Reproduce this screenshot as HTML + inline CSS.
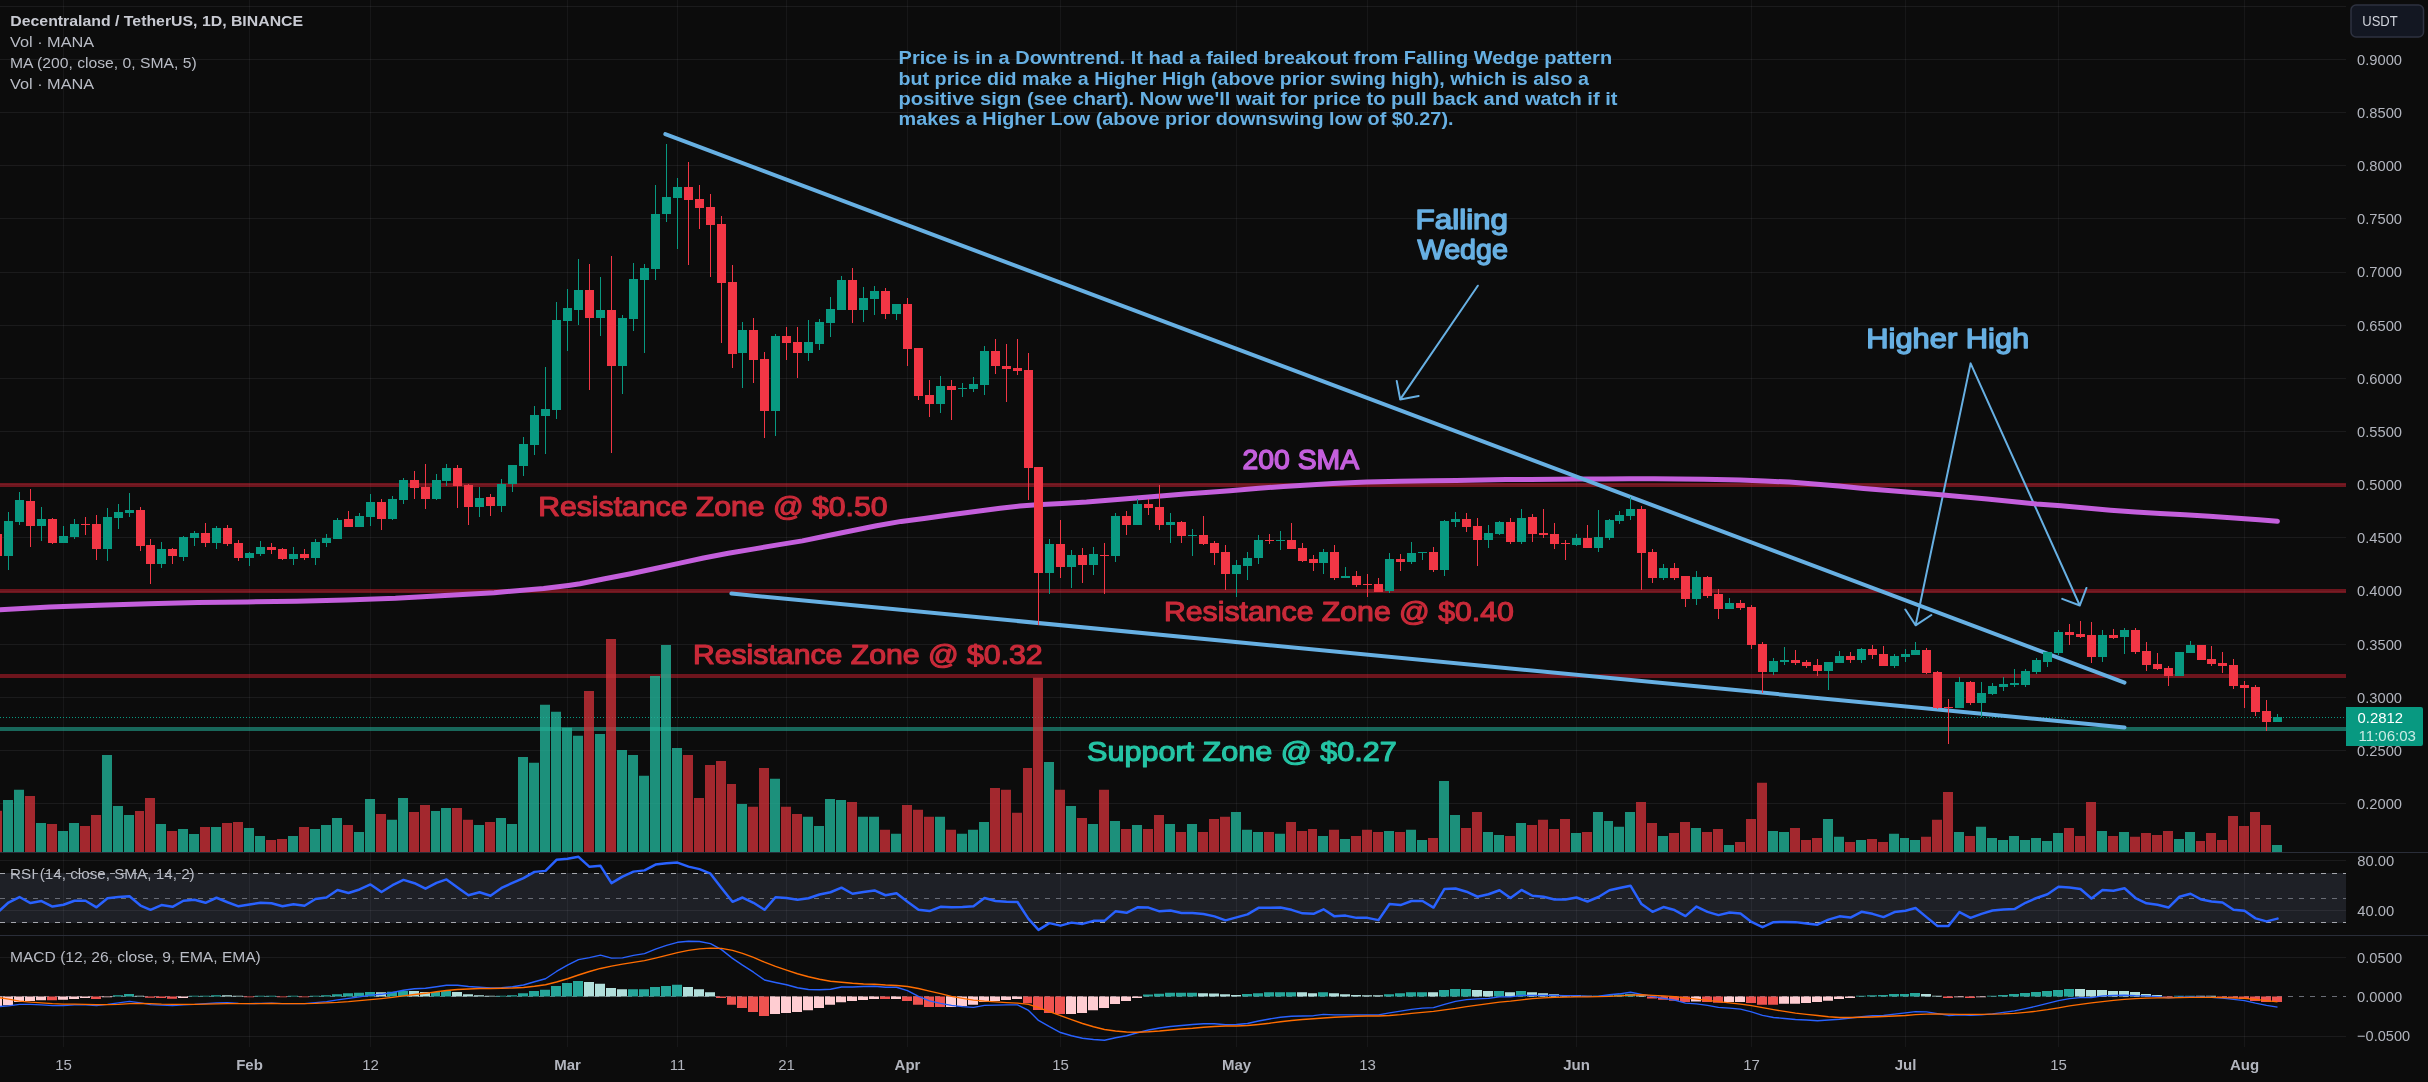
<!DOCTYPE html><html><head><meta charset="utf-8"><title>MANAUSDT</title><style>html,body{margin:0;padding:0;background:#0c0c0c;overflow:hidden}svg{display:block;will-change:transform}</style></head><body><svg width="2428" height="1082" viewBox="0 0 2428 1082" font-family="Liberation Sans, sans-serif">
<rect width="2428" height="1082" fill="#0c0c0c"/>
<rect x="0" y="873" width="2346" height="50" fill="#1e2026"/>
<path d="M63.5 0V1047M249.5 0V1047M370.5 0V1047M567.5 0V1047M677.5 0V1047M786.5 0V1047M907.5 0V1047M1060.5 0V1047M1236.5 0V1047M1367.5 0V1047M1576.5 0V1047M1751.5 0V1047M1905.5 0V1047M2058.5 0V1047M2244.5 0V1047" stroke="rgba(240,243,250,0.05)" stroke-width="1" fill="none"/>
<path d="M0 6.5H2346M0 59.5H2346M0 112.5H2346M0 165.5H2346M0 218.5H2346M0 272.5H2346M0 325.5H2346M0 378.5H2346M0 431.5H2346M0 484.5H2346M0 537.5H2346M0 591.5H2346M0 644.5H2346M0 697.5H2346M0 750.5H2346M0 803.5H2346M0 860.5H2346M0 910.5H2346M0 957.5H2346M0 1036.5H2346" stroke="rgba(240,243,250,0.065)" stroke-width="1" fill="none"/>
<path d="M0 873.5H2346M0 922.5H2346" stroke="#a6a8ae" stroke-width="1" stroke-dasharray="5 6" fill="none"/>
<path d="M0 898.5H2346" stroke="#6a6d76" stroke-width="1" stroke-dasharray="5 6" fill="none"/>
<path d="M0 852.5H2428M0 935.5H2428" stroke="#2a2e39" stroke-width="1" fill="none"/>
<rect x="0" y="483" width="2346" height="4" fill="rgba(230,34,52,0.45)"/>
<rect x="0" y="589" width="2346" height="4" fill="rgba(230,34,52,0.45)"/>
<rect x="0" y="674" width="2346" height="4" fill="rgba(230,34,52,0.45)"/>
<rect x="0" y="727" width="2346" height="4" fill="rgba(34,171,148,0.58)"/>
<path d="M0 717.5H2346" stroke="#089981" stroke-width="1" stroke-dasharray="1 2" fill="none"/>
<path d="M3 852V800.07H13V852ZM14 852V789.86H24V852ZM36 852V823.03H46V852ZM58 852V830.89H68V852ZM69 852V823.03H79V852ZM102 852V755H112V852ZM113 852V806.02H123V852ZM124 852V814.95H134V852ZM156 852V823.88H166V852ZM178 852V828.98H188V852ZM189 852V834.08H199V852ZM211 852V827.07H221V852ZM244 852V827.92H254V852ZM255 852V835.99H265V852ZM288 852V835.99H298V852ZM310 852V828.98H320V852ZM321 852V824.94H331V852ZM332 852V817.93H342V852ZM354 852V831.96H364V852ZM365 852V799.01H375V852ZM387 852V819.84H397V852ZM398 852V797.94H408V852ZM431 852V810.91H440V852ZM441 852V807.93H451V852ZM474 852V824.94H484V852ZM496 852V817.93H506V852ZM507 852V823.88H517V852ZM518 852V756.91H528V852ZM529 852V762.87H539V852ZM540 852V704.83H550V852ZM551 852V711.85H561V852ZM562 852V727.79H572V852ZM573 852V735.87H583V852ZM595 852V733.95H605V852ZM617 852V749.9H627V852ZM628 852V755H638V852ZM639 852V775.83H649V852ZM650 852V675.92H660V852ZM661 852V644.88H671V852ZM672 852V747.98H682V852ZM737 852V803.89H747V852ZM770 852V778.81H780V852ZM803 852V816.86H813V852ZM814 852V826H824V852ZM825 852V799.01H835V852ZM836 852V800.07H846V852ZM858 852V816.86H868V852ZM869 852V816.86H879V852ZM891 852V833.87H901V852ZM935 852V816.86H945V852ZM957 852V833.87H967V852ZM968 852V829.83H978V852ZM979 852V821.96H989V852ZM1044 852V762.02H1054V852ZM1066 852V806.02H1076V852ZM1088 852V823.88H1098V852ZM1110 852V820.9H1120V852ZM1132 852V824.94H1142V852ZM1165 852V823.88H1175V852ZM1187 852V823.88H1197V852ZM1231 852V811.97H1241V852ZM1242 852V829.83H1252V852ZM1253 852V831.96H1263V852ZM1275 852V833.87H1285V852ZM1318 852V835.99H1328V852ZM1340 852V838.97H1350V852ZM1384 852V830.89H1394V852ZM1406 852V829.83H1416V852ZM1417 852V840.03H1427V852ZM1439 852V780.94H1449V852ZM1450 852V814.95H1460V852ZM1483 852V831.96H1493V852ZM1494 852V834.93H1504V852ZM1516 852V823.03H1526V852ZM1571 852V833.02H1581V852ZM1593 852V811.97H1603V852ZM1604 852V820.9H1613V852ZM1614 852V826.85H1624V852ZM1625 852V811.97H1635V852ZM1658 852V835.99H1668V852ZM1691 852V827.92H1701V852ZM1724 852V844.92H1734V852ZM1768 852V830.89H1778V852ZM1779 852V831.96H1789V852ZM1823 852V818.99H1833V852ZM1834 852V836.85H1844V852ZM1856 852V840.03H1866V852ZM1889 852V833.87H1899V852ZM1900 852V837.91H1909V852ZM1910 852V840.03H1920V852ZM1954 852V831.96H1964V852ZM1976 852V826.85H1986V852ZM1987 852V837.91H1997V852ZM1998 852V840.03H2008V852ZM2009 852V835.99H2019V852ZM2020 852V840.03H2030V852ZM2031 852V837.91H2041V852ZM2042 852V840.88H2052V852ZM2053 852V833.02H2063V852ZM2097 852V830.89H2107V852ZM2119 852V831.96H2129V852ZM2174 852V838.97H2184V852ZM2185 852V831.96H2195V852ZM2272 852V844.92H2282V852Z" fill="rgb(32,177,151)" fill-opacity="0.8"/>
<path d="M-8 852V810.7H2V852ZM25 852V796.03H35V852ZM47 852V823.88H57V852ZM80 852V826H90V852ZM91 852V814.95H101V852ZM135 852V810.91H144V852ZM145 852V797.94H155V852ZM167 852V830.89H177V852ZM200 852V827.07H210V852ZM222 852V823.03H232V852ZM233 852V821.96H243V852ZM266 852V840.03H276V852ZM277 852V838.97H287V852ZM299 852V827.07H309V852ZM343 852V824.94H353V852ZM376 852V813.89H386V852ZM409 852V811.97H419V852ZM420 852V804.96H430V852ZM452 852V807.93H462V852ZM463 852V819.84H473V852ZM485 852V821.96H495V852ZM584 852V691.01H594V852ZM606 852V638.93H616V852ZM683 852V755H693V852ZM694 852V797.94H704V852ZM705 852V764.99H715V852ZM716 852V760.95H726V852ZM727 852V783.91H736V852ZM748 852V806.87H758V852ZM759 852V767.97H769V852ZM781 852V806.87H791V852ZM792 852V813.89H802V852ZM847 852V801.98H857V852ZM880 852V829.83H890V852ZM902 852V804.96H912V852ZM913 852V809.85H923V852ZM924 852V816.86H934V852ZM946 852V829.83H956V852ZM990 852V787.95H1000V852ZM1001 852V789.86H1011V852ZM1012 852V812.82H1022V852ZM1023 852V767.97H1032V852ZM1033 852V677.83H1043V852ZM1055 852V789.86H1065V852ZM1077 852V817.93H1087V852ZM1099 852V789.86H1109V852ZM1121 852V828.98H1131V852ZM1143 852V828.98H1153V852ZM1154 852V814.95H1164V852ZM1176 852V831.96H1186V852ZM1198 852V831.96H1208V852ZM1209 852V818.99H1219V852ZM1220 852V816.86H1230V852ZM1264 852V831.96H1274V852ZM1286 852V821.96H1296V852ZM1297 852V830.89H1307V852ZM1308 852V828.98H1317V852ZM1329 852V829.83H1339V852ZM1351 852V835.99H1361V852ZM1362 852V829.83H1372V852ZM1373 852V831.96H1383V852ZM1395 852V831.96H1405V852ZM1428 852V837.91H1438V852ZM1461 852V827.92H1471V852ZM1472 852V811.97H1482V852ZM1505 852V835.99H1515V852ZM1527 852V824.94H1537V852ZM1538 852V819.84H1548V852ZM1549 852V828.98H1559V852ZM1560 852V818.99H1570V852ZM1582 852V831.96H1592V852ZM1636 852V801.98H1646V852ZM1647 852V823.03H1657V852ZM1669 852V833.02H1679V852ZM1680 852V821.96H1690V852ZM1702 852V831.96H1712V852ZM1713 852V828.98H1723V852ZM1735 852V841.95H1745V852ZM1746 852V818.99H1756V852ZM1757 852V782.85H1767V852ZM1790 852V827.92H1800V852ZM1801 852V840.03H1811V852ZM1812 852V837.91H1822V852ZM1845 852V841.95H1855V852ZM1867 852V838.97H1877V852ZM1878 852V841.95H1888V852ZM1921 852V836.85H1931V852ZM1932 852V819.84H1942V852ZM1943 852V791.99H1953V852ZM1965 852V835.99H1975V852ZM2064 852V827.92H2074V852ZM2075 852V835.99H2085V852ZM2086 852V801.98H2096V852ZM2108 852V835.99H2118V852ZM2130 852V836.85H2140V852ZM2141 852V833.02H2151V852ZM2152 852V834.93H2162V852ZM2163 852V830.89H2173V852ZM2196 852V840.88H2205V852ZM2206 852V833.02H2216V852ZM2217 852V840.03H2227V852ZM2228 852V816.01H2238V852ZM2239 852V826H2249V852ZM2250 852V811.97H2260V852ZM2261 852V824.94H2271V852Z" fill="rgb(201,47,55)" fill-opacity="0.8"/>
<path d="M1477.8 285.7L1400.2 399.4M1400.2 399.4L1396.71 380.93M1400.2 399.4L1418.67 395.91M1970.6 363.4L1915.6 625.3M1915.6 625.3L1905.32 609.56M1915.6 625.3L1931.34 615.02M1970.6 363.4L2079.8 605.5M2079.8 605.5L2062.22 598.85M2079.8 605.5L2086.45 587.92" stroke="#67b0e3" stroke-width="2" stroke-linecap="round" stroke-linejoin="round" fill="none"/>
<polyline points="-6,610 0,609.7 49.4,606.9 98.8,605.2 148.3,603.8 197.7,602.4 247.1,601.9 296.5,601.2 345.9,600 395.4,598.3 444.8,595.5 494.2,592.7 543.6,588.5 568.3,585.4 580,583.7 604.7,578.7 629.4,574 654.1,568.8 678.8,563.4 703.5,558 728.3,553.3 753,549.1 777.7,544.9 802.4,540.9 827.1,535.7 851.8,530.8 876.5,525.8 901.2,521.4 925.9,518.2 950.6,514.7 975.4,511.5 1000.1,508.3 1019.8,506.1 1037.1,504.8 1061.8,503.4 1086.5,502.1 1111.3,500.1 1136,497.9 1160.7,495.9 1184.7,494 1209.4,492.2 1230,490.7 1258.8,488.2 1283.5,486.5 1308.3,484.9 1333,483.6 1366.5,482.1 1400,481.3 1431.8,480.8 1456.5,480.4 1481.2,480 1505.9,479.6 1530.6,479.4 1555.4,479.3 1580.1,479.1 1604.8,478.9 1629.5,478.7 1654.2,478.7 1678.9,478.9 1703.6,479.3 1728.3,479.7 1740,479.9 1764.7,480.9 1789.4,482.1 1814.1,484.1 1838.8,486.1 1863.5,488.5 1888.3,490.5 1913,492.5 1937.7,494.5 1962.4,496.7 1987.1,498.9 2011.8,501.4 2036.5,503.9 2061.2,505.8 2085.9,508.1 2110.6,510.3 2135.4,512 2160.1,513.5 2184.8,514.7 2209.5,516.2 2234.2,518 2258.9,519.7 2277.4,521.2" stroke="#c45fdc" stroke-width="5" fill="none" stroke-linecap="round" stroke-linejoin="round"/>
<path d="M665.3 134.1L2124.5 682.6M731.4 593.5L2124.5 727.5" stroke="#67b0e3" stroke-width="4" stroke-linecap="round" fill="none"/>
<path d="M8 512h1V570h-1ZM4 521h9V556h-9ZM19 492h1V525h-1ZM15 500h9V522h-9ZM41 507h1V541h-1ZM37 519h9V526h-9ZM63 526h1V543h-1ZM59 536h9V543h-9ZM74 519h1V539h-1ZM70 524h9V537h-9ZM107 508h1V561h-1ZM103 517h9V549h-9ZM118 504h1V529h-1ZM114 512h9V518h-9ZM129 493h1V517h-1ZM125 510h9V513h-9ZM161 542h1V568h-1ZM157 549h9V564h-9ZM183 536h1V561h-1ZM179 537h9V557h-9ZM194 531h1V546h-1ZM190 533h9V538h-9ZM216 526h1V549h-1ZM212 528h9V543h-9ZM249 552h1V566h-1ZM245 553h9V558h-9ZM260 541h1V556h-1ZM256 547h9V554h-9ZM293 547h1V565h-1ZM289 554h9V559h-9ZM315 539h1V565h-1ZM311 542h9V558h-9ZM326 534h1V547h-1ZM322 538h9V543h-9ZM337 518h1V539h-1ZM333 520h9V539h-9ZM359 513h1V527h-1ZM355 516h9V527h-9ZM370 494h1V526h-1ZM366 502h9V517h-9ZM392 496h1V520h-1ZM388 499h9V519h-9ZM403 478h1V504h-1ZM399 480h9V500h-9ZM436 474h1V500h-1ZM432 480h9V499h-9ZM446 464h1V486h-1ZM442 468h9V481h-9ZM479 487h1V517h-1ZM475 498h9V507h-9ZM501 479h1V512h-1ZM497 484h9V506h-9ZM512 465h1V492h-1ZM508 465h9V484h-9ZM523 437h1V476h-1ZM519 444h9V466h-9ZM534 406h1V455h-1ZM530 415h9V445h-9ZM545 367h1V454h-1ZM541 409h9V416h-9ZM556 302h1V419h-1ZM552 320h9V410h-9ZM567 289h1V351h-1ZM563 308h9V321h-9ZM578 259h1V325h-1ZM574 290h9V310h-9ZM600 277h1V336h-1ZM596 310h9V318h-9ZM622 315h1V394h-1ZM618 318h9V366h-9ZM633 263h1V331h-1ZM629 279h9V319h-9ZM644 264h1V353h-1ZM640 268h9V280h-9ZM655 185h1V280h-1ZM651 214h9V269h-9ZM666 144h1V222h-1ZM662 197h9V214h-9ZM677 178h1V249h-1ZM673 187h9V198h-9ZM742 322h1V388h-1ZM738 330h9V353h-9ZM775 334h1V436h-1ZM771 336h9V411h-9ZM808 320h1V361h-1ZM804 342h9V353h-9ZM819 319h1V350h-1ZM815 322h9V344h-9ZM830 297h1V337h-1ZM826 309h9V323h-9ZM841 276h1V310h-1ZM837 280h9V310h-9ZM863 287h1V322h-1ZM859 298h9V310h-9ZM874 286h1V315h-1ZM870 291h9V299h-9ZM896 304h1V320h-1ZM892 304h9V314h-9ZM940 376h1V413h-1ZM936 386h9V404h-9ZM962 383h1V397h-1ZM958 388h9V389h-9ZM973 377h1V392h-1ZM969 384h9V389h-9ZM984 346h1V395h-1ZM980 351h9V385h-9ZM1049 539h1V594h-1ZM1045 544h9V573h-9ZM1071 550h1V588h-1ZM1067 555h9V567h-9ZM1093 547h1V575h-1ZM1089 554h9V565h-9ZM1115 513h1V562h-1ZM1111 516h9V556h-9ZM1137 499h1V525h-1ZM1133 504h9V525h-9ZM1170 513h1V543h-1ZM1166 522h9V525h-9ZM1192 529h1V556h-1ZM1188 535h9V536h-9ZM1236 560h1V597h-1ZM1232 565h9V574h-9ZM1247 552h1V580h-1ZM1243 558h9V566h-9ZM1258 535h1V564h-1ZM1254 540h9V558h-9ZM1280 531h1V550h-1ZM1276 540h9V541h-9ZM1323 549h1V574h-1ZM1319 552h9V563h-9ZM1345 567h1V578h-1ZM1341 576h9V578h-9ZM1389 553h1V593h-1ZM1385 559h9V591h-9ZM1411 542h1V564h-1ZM1407 553h9V562h-9ZM1422 552h1V560h-1ZM1418 552h9V553h-9ZM1444 520h1V576h-1ZM1440 521h9V570h-9ZM1455 512h1V527h-1ZM1451 519h9V522h-9ZM1488 525h1V548h-1ZM1484 533h9V540h-9ZM1499 521h1V535h-1ZM1495 522h9V534h-9ZM1521 509h1V544h-1ZM1517 518h9V542h-9ZM1576 534h1V546h-1ZM1572 538h9V545h-9ZM1598 510h1V552h-1ZM1594 537h9V548h-9ZM1609 519h1V540h-1ZM1605 520h9V538h-9ZM1619 511h1V524h-1ZM1615 515h9V521h-9ZM1630 497h1V520h-1ZM1626 509h9V516h-9ZM1663 564h1V580h-1ZM1659 568h9V578h-9ZM1696 571h1V605h-1ZM1692 577h9V599h-9ZM1729 598h1V609h-1ZM1725 603h9V609h-9ZM1773 658h1V675h-1ZM1769 661h9V672h-9ZM1784 647h1V665h-1ZM1780 660h9V662h-9ZM1828 662h1V690h-1ZM1824 662h9V671h-9ZM1839 651h1V663h-1ZM1835 656h9V663h-9ZM1861 648h1V663h-1ZM1857 649h9V660h-9ZM1894 654h1V668h-1ZM1890 656h9V666h-9ZM1905 649h1V662h-1ZM1901 654h9V657h-9ZM1915 642h1V655h-1ZM1911 650h9V655h-9ZM1959 677h1V708h-1ZM1955 682h9V708h-9ZM1981 682h1V717h-1ZM1977 693h9V703h-9ZM1992 683h1V695h-1ZM1988 686h9V694h-9ZM2003 677h1V691h-1ZM1999 684h9V687h-9ZM2014 669h1V687h-1ZM2010 683h9V685h-9ZM2025 669h1V687h-1ZM2021 671h9V685h-9ZM2036 658h1V674h-1ZM2032 660h9V672h-9ZM2047 652h1V667h-1ZM2043 652h9V662h-9ZM2058 630h1V655h-1ZM2054 632h9V653h-9ZM2102 630h1V662h-1ZM2098 635h9V657h-9ZM2124 628h1V654h-1ZM2120 630h9V637h-9ZM2179 652h1V676h-1ZM2175 652h9V676h-9ZM2190 641h1V653h-1ZM2186 645h9V653h-9ZM2277 714h1V722h-1ZM2273 717h9V722h-9Z" fill="#089981"/>
<path d="M-3 534h1V556h-1ZM-7 534h9V556h-9ZM30 489h1V547h-1ZM26 501h9V526h-9ZM52 518h1V544h-1ZM48 519h9V543h-9ZM85 517h1V535h-1ZM81 524h9V525h-9ZM96 515h1V560h-1ZM92 524h9V549h-9ZM140 507h1V551h-1ZM136 510h9V546h-9ZM150 539h1V584h-1ZM146 545h9V564h-9ZM172 548h1V564h-1ZM168 549h9V556h-9ZM205 523h1V547h-1ZM201 533h9V543h-9ZM227 525h1V546h-1ZM223 528h9V544h-9ZM238 540h1V561h-1ZM234 543h9V558h-9ZM271 543h1V554h-1ZM267 547h9V550h-9ZM282 548h1V560h-1ZM278 549h9V559h-9ZM304 549h1V560h-1ZM300 554h9V558h-9ZM348 511h1V527h-1ZM344 519h9V527h-9ZM381 499h1V530h-1ZM377 502h9V519h-9ZM414 471h1V499h-1ZM410 480h9V488h-9ZM425 464h1V509h-1ZM421 487h9V499h-9ZM457 465h1V508h-1ZM453 468h9V486h-9ZM468 484h1V525h-1ZM464 485h9V507h-9ZM490 494h1V516h-1ZM486 497h9V506h-9ZM589 264h1V390h-1ZM585 290h9V318h-9ZM611 256h1V453h-1ZM607 310h9V366h-9ZM688 162h1V265h-1ZM684 187h9V200h-9ZM699 185h1V229h-1ZM695 199h9V208h-9ZM710 194h1V277h-1ZM706 207h9V225h-9ZM721 216h1V343h-1ZM717 224h9V283h-9ZM732 265h1V368h-1ZM728 282h9V354h-9ZM753 318h1V383h-1ZM749 330h9V360h-9ZM764 352h1V438h-1ZM760 359h9V411h-9ZM786 327h1V360h-1ZM782 336h9V343h-9ZM797 327h1V378h-1ZM793 342h9V353h-9ZM852 268h1V323h-1ZM848 280h9V310h-9ZM885 288h1V319h-1ZM881 291h9V314h-9ZM907 298h1V366h-1ZM903 304h9V349h-9ZM918 348h1V400h-1ZM914 348h9V396h-9ZM929 380h1V417h-1ZM925 395h9V404h-9ZM951 380h1V420h-1ZM947 386h9V390h-9ZM995 339h1V374h-1ZM991 351h9V366h-9ZM1006 344h1V402h-1ZM1002 366h9V369h-9ZM1017 339h1V375h-1ZM1013 368h9V371h-9ZM1028 353h1V500h-1ZM1024 370h9V468h-9ZM1038 467h1V625h-1ZM1034 467h9V573h-9ZM1060 520h1V578h-1ZM1056 544h9V567h-9ZM1082 548h1V583h-1ZM1078 555h9V565h-9ZM1104 543h1V594h-1ZM1100 555h9V556h-9ZM1126 511h1V535h-1ZM1122 516h9V525h-9ZM1148 499h1V515h-1ZM1144 504h9V508h-9ZM1159 485h1V530h-1ZM1155 507h9V525h-9ZM1181 521h1V543h-1ZM1177 522h9V536h-9ZM1203 516h1V545h-1ZM1199 535h9V544h-9ZM1214 541h1V565h-1ZM1210 543h9V553h-9ZM1225 545h1V590h-1ZM1221 552h9V574h-9ZM1269 534h1V544h-1ZM1265 540h9V541h-9ZM1291 523h1V549h-1ZM1287 540h9V549h-9ZM1302 543h1V562h-1ZM1298 548h9V561h-9ZM1313 555h1V571h-1ZM1309 559h9V563h-9ZM1334 545h1V580h-1ZM1330 552h9V578h-9ZM1356 571h1V587h-1ZM1352 576h9V585h-9ZM1367 574h1V597h-1ZM1363 584h9V585h-9ZM1378 578h1V592h-1ZM1374 584h9V592h-9ZM1400 554h1V571h-1ZM1396 559h9V562h-9ZM1433 547h1V572h-1ZM1429 552h9V570h-9ZM1466 513h1V532h-1ZM1462 519h9V527h-9ZM1477 518h1V566h-1ZM1473 526h9V540h-9ZM1510 518h1V544h-1ZM1506 522h9V542h-9ZM1532 514h1V542h-1ZM1528 517h9V534h-9ZM1543 509h1V538h-1ZM1539 533h9V535h-9ZM1554 523h1V549h-1ZM1550 534h9V544h-9ZM1565 540h1V560h-1ZM1561 543h9V544h-9ZM1587 525h1V548h-1ZM1583 538h9V548h-9ZM1641 506h1V590h-1ZM1637 509h9V553h-9ZM1652 549h1V583h-1ZM1648 552h9V578h-9ZM1674 563h1V580h-1ZM1670 568h9V578h-9ZM1685 576h1V607h-1ZM1681 576h9V599h-9ZM1707 576h1V598h-1ZM1703 577h9V596h-9ZM1718 589h1V619h-1ZM1714 594h9V609h-9ZM1740 600h1V610h-1ZM1736 603h9V608h-9ZM1751 605h1V649h-1ZM1747 607h9V645h-9ZM1762 642h1V693h-1ZM1758 644h9V672h-9ZM1795 650h1V665h-1ZM1791 660h9V663h-9ZM1806 660h1V668h-1ZM1802 662h9V666h-9ZM1817 659h1V676h-1ZM1813 665h9V671h-9ZM1850 652h1V663h-1ZM1846 656h9V660h-9ZM1872 645h1V659h-1ZM1868 649h9V655h-9ZM1883 646h1V666h-1ZM1879 654h9V666h-9ZM1926 648h1V674h-1ZM1922 650h9V673h-9ZM1937 671h1V709h-1ZM1933 672h9V708h-9ZM1948 699h1V744h-1ZM1944 707h9V708h-9ZM1970 681h1V705h-1ZM1966 682h9V703h-9ZM2069 624h1V645h-1ZM2065 632h9V635h-9ZM2080 621h1V638h-1ZM2076 634h9V637h-9ZM2091 622h1V663h-1ZM2087 635h9V657h-9ZM2113 629h1V639h-1ZM2109 635h9V638h-9ZM2135 628h1V654h-1ZM2131 630h9V652h-9ZM2146 642h1V671h-1ZM2142 651h9V665h-9ZM2157 653h1V670h-1ZM2153 664h9V669h-9ZM2168 666h1V686h-1ZM2164 668h9V676h-9ZM2201 645h1V660h-1ZM2197 645h9V660h-9ZM2211 646h1V666h-1ZM2207 659h9V664h-9ZM2222 652h1V673h-1ZM2218 663h9V666h-9ZM2233 659h1V689h-1ZM2229 665h9V686h-9ZM2244 681h1V708h-1ZM2240 685h9V688h-9ZM2255 685h1V716h-1ZM2251 687h9V712h-9ZM2266 700h1V731h-1ZM2262 711h9V722h-9Z" fill="#f23645"/>
<text x="898.6" y="64.4" font-size="18" fill="#67b0e3" font-weight="bold" text-anchor="start" textLength="713.5" lengthAdjust="spacingAndGlyphs">Price is in a Downtrend. It had a failed breakout from Falling Wedge pattern</text>
<text x="898.6" y="84.5" font-size="18" fill="#67b0e3" font-weight="bold" text-anchor="start" textLength="690.4" lengthAdjust="spacingAndGlyphs">but price did make a Higher High (above prior swing high), which is also a</text>
<text x="898.6" y="104.5" font-size="18" fill="#67b0e3" font-weight="bold" text-anchor="start" textLength="718.9" lengthAdjust="spacingAndGlyphs">positive sign (see chart). Now we'll wait for price to pull back and watch if it</text>
<text x="898.6" y="124.5" font-size="18" fill="#67b0e3" font-weight="bold" text-anchor="start" textLength="554.9" lengthAdjust="spacingAndGlyphs">makes a Higher Low (above prior downswing low of $0.27).</text>
<text x="1415.6" y="228.9" font-size="27.5" fill="#67b0e3" font-weight="normal" text-anchor="start" textLength="92.4" lengthAdjust="spacingAndGlyphs" stroke="#67b0e3" stroke-width="1.4" stroke-linejoin="round">Falling</text>
<text x="1417.6" y="259.1" font-size="27.5" fill="#67b0e3" font-weight="normal" text-anchor="start" textLength="90.4" lengthAdjust="spacingAndGlyphs" stroke="#67b0e3" stroke-width="1.4" stroke-linejoin="round">Wedge</text>
<text x="1866.3" y="348.4" font-size="28" fill="#67b0e3" font-weight="normal" text-anchor="start" textLength="163" lengthAdjust="spacingAndGlyphs" stroke="#67b0e3" stroke-width="1.4" stroke-linejoin="round">Higher High</text>
<text x="1242.6" y="469.4" font-size="28" fill="#c45fdc" font-weight="normal" text-anchor="start" textLength="116.5" lengthAdjust="spacingAndGlyphs" stroke="#c45fdc" stroke-width="1.4" stroke-linejoin="round">200 SMA</text>
<text x="538.2" y="516.3" font-size="28" fill="#c92a39" font-weight="normal" text-anchor="start" textLength="349.4" lengthAdjust="spacingAndGlyphs" stroke="#c92a39" stroke-width="1.2" stroke-linejoin="round">Resistance Zone @ $0.50</text>
<text x="1164" y="620.6" font-size="28" fill="#c92a39" font-weight="normal" text-anchor="start" textLength="349.8" lengthAdjust="spacingAndGlyphs" stroke="#c92a39" stroke-width="1.2" stroke-linejoin="round">Resistance Zone @ $0.40</text>
<text x="692.9" y="663.8" font-size="28" fill="#c92a39" font-weight="normal" text-anchor="start" textLength="349.8" lengthAdjust="spacingAndGlyphs" stroke="#c92a39" stroke-width="1.2" stroke-linejoin="round">Resistance Zone @ $0.32</text>
<text x="1087" y="761.3" font-size="28" fill="#25c4a5" font-weight="normal" text-anchor="start" textLength="309.8" lengthAdjust="spacingAndGlyphs" stroke="#25c4a5" stroke-width="1.2" stroke-linejoin="round">Support Zone @ $0.27</text>
<polyline points="-2.5,912.58 8.5,902.53 19.5,897.01 30.5,903.04 41.5,901.03 52.5,906.55 63.5,904.79 74.5,900.77 85.5,900.77 96.5,907.31 107.5,898.26 118.5,897.01 129.5,896.25 140.5,905.55 150.5,909.82 161.5,905.05 172.5,906.8 183.5,900.77 194.5,899.77 205.5,902.78 216.5,897.76 227.5,902.28 238.5,906.3 249.5,904.54 260.5,902.78 271.5,903.29 282.5,906.3 293.5,904.29 304.5,905.8 315.5,899.02 326.5,897.51 337.5,889.97 348.5,892.98 359.5,889.47 370.5,884.44 381.5,891.98 392.5,885.2 403.5,879.92 414.5,883.19 425.5,888.71 436.5,882.93 446.5,879.42 457.5,887.46 468.5,895.25 479.5,892.23 490.5,895.75 501.5,887.96 512.5,882.93 523.5,878.16 534.5,871.88 545.5,870.87 556.5,859.82 567.5,858.81 578.5,856.8 589.5,866.85 600.5,865.85 611.5,883.19 622.5,876.65 633.5,871.63 644.5,870.37 655.5,864.59 666.5,863.34 677.5,862.58 688.5,866.6 699.5,869.12 710.5,873.64 721.5,887.96 732.5,901.78 742.5,897.51 753.5,902.78 764.5,909.82 775.5,897.26 786.5,898.01 797.5,899.77 808.5,898.26 819.5,894.49 830.5,892.23 841.5,887.71 852.5,893.74 863.5,891.98 874.5,890.47 885.5,895.25 896.5,893.24 907.5,901.78 918.5,909.82 929.5,911.08 940.5,906.8 951.5,907.31 962.5,907.06 973.5,906.3 984.5,898.01 995.5,901.03 1006.5,901.78 1017.5,902.03 1028.5,918.86 1038.5,929.92 1049.5,923.14 1060.5,925.65 1071.5,922.63 1082.5,923.89 1093.5,920.87 1104.5,920.87 1115.5,911.33 1126.5,912.83 1137.5,907.31 1148.5,907.56 1159.5,911.33 1170.5,910.57 1181.5,913.09 1192.5,913.09 1203.5,914.09 1214.5,916.35 1225.5,920.37 1236.5,917.36 1247.5,914.34 1258.5,907.81 1269.5,907.81 1280.5,907.56 1291.5,909.82 1302.5,913.34 1313.5,913.84 1323.5,909.32 1334.5,916.35 1345.5,915.6 1356.5,917.86 1367.5,917.86 1378.5,920.12 1389.5,904.04 1400.5,905.05 1411.5,901.03 1422.5,901.03 1433.5,907.56 1444.5,888.96 1455.5,888.46 1466.5,891.73 1477.5,896.75 1488.5,894.24 1499.5,890.22 1510.5,898.01 1521.5,889.97 1532.5,895.75 1543.5,896.75 1554.5,899.52 1565.5,899.52 1576.5,897.51 1587.5,901.53 1598.5,897.01 1609.5,890.22 1619.5,887.96 1630.5,885.7 1641.5,904.04 1652.5,911.83 1663.5,907.06 1674.5,910.07 1685.5,916.1 1696.5,906.55 1707.5,911.83 1718.5,915.1 1729.5,912.58 1740.5,913.59 1751.5,921.88 1762.5,927.16 1773.5,922.13 1784.5,921.88 1795.5,922.13 1806.5,923.39 1817.5,924.64 1828.5,919.62 1839.5,916.35 1850.5,917.61 1861.5,911.83 1872.5,913.84 1883.5,917.11 1894.5,912.08 1905.5,910.82 1915.5,908.06 1926.5,917.11 1937.5,925.9 1948.5,925.9 1959.5,912.08 1970.5,917.86 1981.5,913.84 1992.5,910.57 2003.5,909.57 2014.5,909.07 2025.5,902.78 2036.5,898.01 2047.5,894.24 2058.5,886.7 2069.5,887.46 2080.5,888.96 2091.5,898.51 2102.5,889.97 2113.5,890.72 2124.5,888.21 2135.5,898.01 2146.5,903.29 2157.5,904.79 2168.5,907.56 2179.5,896.75 2190.5,893.74 2201.5,899.52 2211.5,901.53 2222.5,902.53 2233.5,909.82 2244.5,910.82 2255.5,918.36 2266.5,921.38 2277.5,918.61" stroke="#2962ff" stroke-width="2.5" fill="none" stroke-linejoin="round" stroke-linecap="round"/>
<path d="M0 996.5H2346" stroke="#6a6d76" stroke-width="1" stroke-dasharray="5 6" fill="none"/>
<path d="M113 995.24H123V996.5H113ZM124 993.99H134V996.5H124ZM189 995.7H199V996.5H189ZM200 995.7H210V996.5H200ZM211 995.24H221V996.5H211ZM255 995.7H265V996.5H255ZM266 995.7H276V996.5H266ZM288 995.7H298V996.5H288ZM310 995.7H320V996.5H310ZM321 995.24H331V996.5H321ZM332 994.24H342V996.5H332ZM343 993.23H353V996.5H343ZM354 992.73H364V996.5H354ZM365 991.98H375V996.5H365ZM387 991.73H397V996.5H387ZM398 990.97H408V996.5H398ZM431 991.98H440V996.5H431ZM441 990.97H451V996.5H441ZM496 995.7H506V996.5H496ZM507 995.24H517V996.5H507ZM518 993.23H528V996.5H518ZM529 990.97H539V996.5H529ZM540 989.72H550V996.5H540ZM551 985.95H561V996.5H551ZM562 982.93H572V996.5H562ZM573 980.92H583V996.5H573ZM628 989.21H638V996.5H628ZM639 989.21H649V996.5H639ZM650 986.95H660V996.5H650ZM661 985.95H671V996.5H661ZM672 984.69H682V996.5H672ZM1143 994.49H1153V996.5H1143ZM1154 993.74H1164V996.5H1154ZM1165 992.73H1175V996.5H1165ZM1176 992.73H1186V996.5H1176ZM1187 992.73H1197V996.5H1187ZM1242 993.99H1252V996.5H1242ZM1253 993.23H1263V996.5H1253ZM1264 992.23H1274V996.5H1264ZM1275 992.23H1285V996.5H1275ZM1286 992.23H1296V996.5H1286ZM1318 992.23H1328V996.5H1318ZM1384 994.24H1394V996.5H1384ZM1395 993.23H1405V996.5H1395ZM1406 992.23H1416V996.5H1406ZM1417 992.23H1427V996.5H1417ZM1439 989.97H1449V996.5H1439ZM1450 988.96H1460V996.5H1450ZM1461 988.96H1471V996.5H1461ZM1494 990.97H1504V996.5H1494ZM1516 990.97H1526V996.5H1516ZM1593 995.7H1603V996.5H1593ZM1604 995.24H1613V996.5H1604ZM1614 994.49H1624V996.5H1614ZM1625 993.99H1635V996.5H1625ZM1856 995.7H1866V996.5H1856ZM1867 995.24H1877V996.5H1867ZM1878 994.99H1888V996.5H1878ZM1889 993.99H1899V996.5H1889ZM1900 993.99H1909V996.5H1900ZM1910 992.98H1920V996.5H1910ZM1987 995.7H1997V996.5H1987ZM1998 994.99H2008V996.5H1998ZM2009 993.99H2019V996.5H2009ZM2020 992.98H2030V996.5H2020ZM2031 991.98H2041V996.5H2031ZM2042 990.97H2052V996.5H2042ZM2053 989.97H2063V996.5H2053ZM2064 988.96H2074V996.5H2064ZM2174 995.7H2184V996.5H2174ZM2185 995.7H2195V996.5H2185Z" fill="#26a69a"/>
<path d="M135 995.7H144V996.5H135ZM222 995.24H232V996.5H222ZM233 995.7H243V996.5H233ZM376 992.23H386V996.5H376ZM409 990.97H419V996.5H409ZM420 991.98H430V996.5H420ZM452 991.98H462V996.5H452ZM463 994.24H473V996.5H463ZM474 995.24H484V996.5H474ZM485 995.7H495V996.5H485ZM584 981.93H594V996.5H584ZM595 983.69H605V996.5H595ZM606 987.96H616V996.5H606ZM617 989.21H627V996.5H617ZM683 986.95H693V996.5H683ZM694 989.21H704V996.5H694ZM705 992.23H715V996.5H705ZM1198 993.23H1208V996.5H1198ZM1209 993.48H1219V996.5H1209ZM1220 994.24H1230V996.5H1220ZM1231 994.99H1241V996.5H1231ZM1297 992.23H1307V996.5H1297ZM1308 993.23H1317V996.5H1308ZM1329 993.23H1339V996.5H1329ZM1340 994.24H1350V996.5H1340ZM1351 994.99H1361V996.5H1351ZM1362 995.24H1372V996.5H1362ZM1373 995.24H1383V996.5H1373ZM1428 992.23H1438V996.5H1428ZM1472 989.97H1482V996.5H1472ZM1483 990.97H1493V996.5H1483ZM1505 992.23H1515V996.5H1505ZM1527 992.23H1537V996.5H1527ZM1538 993.23H1548V996.5H1538ZM1549 994.24H1559V996.5H1549ZM1560 994.99H1570V996.5H1560ZM1571 995.24H1581V996.5H1571ZM1582 995.7H1592V996.5H1582ZM1636 995.24H1646V996.5H1636ZM1921 993.99H1931V996.5H1921ZM1932 995.7H1942V996.5H1932ZM2075 988.96H2085V996.5H2075ZM2086 989.97H2096V996.5H2086ZM2097 989.97H2107V996.5H2097ZM2108 990.97H2118V996.5H2108ZM2119 990.97H2129V996.5H2119ZM2130 991.98H2140V996.5H2130ZM2141 993.99H2151V996.5H2141ZM2152 994.99H2162V996.5H2152ZM2196 995.7H2205V996.5H2196ZM2206 995.7H2216V996.5H2206Z" fill="#b2dfdb"/>
<path d="M47 996.5H57V1000.27H47ZM91 996.5H101V999.01H91ZM145 996.5H155V997.76H145ZM156 996.5H166V998.01H156ZM167 996.5H177V998.76H167ZM244 996.5H254V997.3H244ZM277 996.5H287V997.3H277ZM299 996.5H309V997.3H299ZM716 996.5H726V998.01H716ZM727 996.5H736V1004.79H727ZM737 996.5H747V1008.06H737ZM748 996.5H758V1012.08H748ZM759 996.5H769V1016.1H759ZM880 996.5H890V999.01H880ZM902 996.5H912V1001.02H902ZM913 996.5H923V1004.79H913ZM924 996.5H934V1007.05H924ZM935 996.5H945V1007.05H935ZM1023 996.5H1032V1003.28H1023ZM1033 996.5H1043V1010.07H1033ZM1044 996.5H1054V1013.08H1044ZM1055 996.5H1065V1014.09H1055ZM1647 996.5H1657V998.51H1647ZM1658 996.5H1668V999.77H1658ZM1669 996.5H1679V1000.77H1669ZM1680 996.5H1690V1002.03H1680ZM1702 996.5H1712V1002.03H1702ZM1713 996.5H1723V1002.78H1713ZM1746 996.5H1756V1003.03H1746ZM1757 996.5H1767V1004.79H1757ZM1768 996.5H1778V1004.79H1768ZM1943 996.5H1953V998.01H1943ZM1965 996.5H1975V998.01H1965ZM2163 996.5H2173V997.3H2163ZM2217 996.5H2227V997.3H2217ZM2228 996.5H2238V998.26H2228ZM2239 996.5H2249V999.01H2239ZM2250 996.5H2260V1001.02H2250ZM2261 996.5H2271V1002.03H2261ZM2272 996.5H2282V1002.03H2272Z" fill="#ef5350"/>
<path d="M-8 996.5H2V1006.55H-8ZM3 996.5H13V1005.29H3ZM14 996.5H24V1002.03H14ZM25 996.5H35V1001.02H25ZM36 996.5H46V1000.27H36ZM58 996.5H68V999.77H58ZM69 996.5H79V999.01H69ZM80 996.5H90V998.01H80ZM102 996.5H112V997.3H102ZM178 996.5H188V998.01H178ZM770 996.5H780V1014.09H770ZM781 996.5H791V1013.08H781ZM792 996.5H802V1012.08H792ZM803 996.5H813V1010.32H803ZM814 996.5H824V1008.06H814ZM825 996.5H835V1004.79H825ZM836 996.5H846V1002.28H836ZM847 996.5H857V1001.02H847ZM858 996.5H868V1000.02H858ZM869 996.5H879V999.01H869ZM891 996.5H901V999.01H891ZM946 996.5H956V1007.05H946ZM957 996.5H967V1006.05H957ZM968 996.5H978V1004.79H968ZM979 996.5H989V1002.03H979ZM990 996.5H1000V1001.02H990ZM1001 996.5H1011V1000.02H1001ZM1012 996.5H1022V999.01H1012ZM1066 996.5H1076V1014.09H1066ZM1077 996.5H1087V1013.08H1077ZM1088 996.5H1098V1010.32H1088ZM1099 996.5H1109V1008.06H1099ZM1110 996.5H1120V1004.04H1110ZM1121 996.5H1131V1001.02H1121ZM1132 996.5H1142V998.01H1132ZM1691 996.5H1701V1001.53H1691ZM1724 996.5H1734V1002.03H1724ZM1735 996.5H1745V1002.03H1735ZM1779 996.5H1789V1003.79H1779ZM1790 996.5H1800V1003.79H1790ZM1801 996.5H1811V1003.03H1801ZM1812 996.5H1822V1002.03H1812ZM1823 996.5H1833V1000.77H1823ZM1834 996.5H1844V999.01H1834ZM1845 996.5H1855V998.01H1845ZM1954 996.5H1964V997.3H1954ZM1976 996.5H1986V997.3H1976Z" fill="#ffcdd2"/>
<polyline points="-2.5,1006.63 8.5,1005.88 19.5,1004.37 30.5,1004.37 41.5,1004.87 52.5,1005.63 63.5,1005.63 74.5,1004.87 85.5,1004.87 96.5,1005.63 107.5,1004.37 118.5,1002.86 129.5,1001.36 140.5,1002.86 150.5,1004.62 161.5,1005.13 172.5,1005.63 183.5,1004.87 194.5,1004.37 205.5,1003.62 216.5,1002.86 227.5,1002.61 238.5,1003.37 249.5,1003.62 260.5,1003.37 271.5,1003.12 282.5,1003.62 293.5,1003.62 304.5,1003.62 315.5,1002.61 326.5,1001.61 337.5,999.85 348.5,998.34 359.5,996.83 370.5,995.08 381.5,994.32 392.5,992.56 403.5,990.3 414.5,988.79 425.5,988.29 436.5,986.78 446.5,985.28 457.5,985.28 468.5,986.53 479.5,987.29 490.5,988.04 501.5,987.79 512.5,986.78 523.5,985.03 534.5,981.76 545.5,978.74 556.5,971.46 567.5,965.18 578.5,959.65 589.5,957.64 600.5,955.13 611.5,958.14 622.5,957.89 633.5,955.38 644.5,953.62 655.5,949.1 666.5,945.33 677.5,942.31 688.5,941.31 699.5,941.56 710.5,943.57 721.5,949.6 732.5,958.39 742.5,965.18 753.5,972.21 764.5,980 775.5,982.51 786.5,984.77 797.5,987.79 808.5,989.55 819.5,989.8 830.5,989.3 841.5,987.04 852.5,987.04 863.5,986.53 874.5,986.28 885.5,987.29 896.5,987.29 907.5,990.55 918.5,996.33 929.5,1000.85 940.5,1003.37 951.5,1005.38 962.5,1006.63 973.5,1007.39 984.5,1005.38 995.5,1005.13 1006.5,1004.87 1017.5,1004.87 1028.5,1010.4 1038.5,1020.45 1049.5,1026.73 1060.5,1032.51 1071.5,1035.78 1082.5,1038.29 1093.5,1039.55 1104.5,1040.3 1115.5,1037.79 1126.5,1035.78 1137.5,1032.76 1148.5,1030 1159.5,1027.99 1170.5,1026.48 1181.5,1025.48 1192.5,1024.47 1203.5,1023.72 1214.5,1023.72 1225.5,1024.72 1236.5,1024.47 1247.5,1023.47 1258.5,1020.95 1269.5,1018.94 1280.5,1017.19 1291.5,1016.18 1302.5,1015.93 1313.5,1015.68 1323.5,1014.42 1334.5,1014.92 1345.5,1014.92 1356.5,1014.92 1367.5,1014.92 1378.5,1014.92 1389.5,1012.91 1400.5,1011.16 1411.5,1009.4 1422.5,1008.14 1433.5,1007.64 1444.5,1004.37 1455.5,1001.36 1466.5,999.6 1477.5,998.84 1488.5,998.34 1499.5,996.83 1510.5,996.83 1521.5,995.33 1532.5,995.33 1543.5,995.33 1554.5,995.33 1565.5,995.58 1576.5,995.58 1587.5,996.33 1598.5,996.08 1609.5,994.82 1619.5,993.82 1630.5,992.31 1641.5,994.32 1652.5,996.33 1663.5,998.34 1674.5,1000.1 1685.5,1003.12 1696.5,1003.87 1707.5,1005.38 1718.5,1007.39 1729.5,1008.14 1740.5,1009.15 1751.5,1011.91 1762.5,1015.43 1773.5,1017.44 1784.5,1018.44 1795.5,1019.45 1806.5,1019.95 1817.5,1020.7 1828.5,1019.95 1839.5,1019.2 1850.5,1017.94 1861.5,1016.68 1872.5,1015.68 1883.5,1015.43 1894.5,1014.17 1905.5,1012.91 1915.5,1011.66 1926.5,1011.91 1937.5,1013.67 1948.5,1015.43 1959.5,1014.92 1970.5,1015.18 1981.5,1014.92 1992.5,1013.92 2003.5,1012.41 2014.5,1010.9 2025.5,1008.64 2036.5,1006.13 2047.5,1003.37 2058.5,1000.6 2069.5,998.59 2080.5,997.59 2091.5,997.59 2102.5,995.83 2113.5,995.33 2124.5,995.08 2135.5,995.58 2146.5,995.83 2157.5,996.58 2168.5,997.84 2179.5,997.09 2190.5,996.83 2201.5,997.09 2211.5,997.34 2222.5,998.09 2233.5,999.35 2244.5,1000.6 2255.5,1003.12 2266.5,1005.38 2277.5,1007.14" stroke="#2962ff" stroke-width="1.4" fill="none" stroke-linejoin="round"/>
<polyline points="-2.5,997.34 8.5,999.1 19.5,1001.11 30.5,1002.11 41.5,1002.86 52.5,1003.62 63.5,1004.12 74.5,1004.12 85.5,1004.37 96.5,1004.62 107.5,1004.62 118.5,1004.37 129.5,1003.62 140.5,1003.37 150.5,1003.62 161.5,1004.12 172.5,1004.37 183.5,1004.37 194.5,1004.37 205.5,1004.12 216.5,1003.87 227.5,1003.62 238.5,1003.62 249.5,1003.62 260.5,1003.62 271.5,1003.37 282.5,1003.62 293.5,1003.62 304.5,1003.62 315.5,1003.37 326.5,1002.86 337.5,1002.36 348.5,1001.61 359.5,1000.6 370.5,999.6 381.5,998.59 392.5,997.34 403.5,995.83 414.5,994.57 425.5,993.32 436.5,991.81 446.5,990.55 457.5,989.55 468.5,989.05 479.5,988.54 490.5,988.54 501.5,988.29 512.5,988.04 523.5,987.54 534.5,986.28 545.5,984.77 556.5,982.01 567.5,978.74 578.5,974.97 589.5,971.46 600.5,968.44 611.5,966.18 622.5,964.17 633.5,962.41 644.5,960.65 655.5,958.14 666.5,955.38 677.5,952.61 688.5,950.35 699.5,948.84 710.5,948.09 721.5,948.34 732.5,950.35 742.5,953.37 753.5,957.39 764.5,962.16 775.5,966.43 786.5,970.2 797.5,973.72 808.5,976.73 819.5,979.25 830.5,981.26 841.5,982.26 852.5,983.27 863.5,984.02 874.5,984.27 885.5,985.03 896.5,985.53 907.5,986.53 918.5,988.54 929.5,991.06 940.5,993.57 951.5,996.33 962.5,998.34 973.5,1000.1 984.5,1001.11 995.5,1001.86 1006.5,1002.61 1017.5,1003.12 1028.5,1004.37 1038.5,1007.64 1049.5,1011.66 1060.5,1015.68 1071.5,1019.7 1082.5,1023.47 1093.5,1026.73 1104.5,1029.5 1115.5,1031.01 1126.5,1032.01 1137.5,1032.26 1148.5,1031.76 1159.5,1031.01 1170.5,1030 1181.5,1028.99 1192.5,1028.24 1203.5,1027.24 1214.5,1026.48 1225.5,1025.98 1236.5,1025.98 1247.5,1025.48 1258.5,1024.47 1269.5,1023.22 1280.5,1021.71 1291.5,1020.45 1302.5,1019.45 1313.5,1018.69 1323.5,1017.94 1334.5,1017.19 1345.5,1016.68 1356.5,1016.18 1367.5,1015.93 1378.5,1015.93 1389.5,1015.43 1400.5,1014.67 1411.5,1013.42 1422.5,1012.41 1433.5,1011.41 1444.5,1009.9 1455.5,1008.39 1466.5,1006.63 1477.5,1005.13 1488.5,1003.62 1499.5,1002.11 1510.5,1001.11 1521.5,999.85 1532.5,998.59 1543.5,997.84 1554.5,997.34 1565.5,997.09 1576.5,996.83 1587.5,996.83 1598.5,996.58 1609.5,996.33 1619.5,995.83 1630.5,995.08 1641.5,994.82 1652.5,995.33 1663.5,995.83 1674.5,996.58 1685.5,997.84 1696.5,999.1 1707.5,1000.35 1718.5,1001.61 1729.5,1002.86 1740.5,1004.12 1751.5,1005.63 1762.5,1007.64 1773.5,1009.65 1784.5,1011.41 1795.5,1013.17 1806.5,1014.42 1817.5,1015.43 1828.5,1016.68 1839.5,1017.44 1850.5,1017.44 1861.5,1017.19 1872.5,1016.93 1883.5,1016.43 1894.5,1015.93 1905.5,1015.43 1915.5,1014.67 1926.5,1014.17 1937.5,1013.92 1948.5,1014.17 1959.5,1014.42 1970.5,1014.42 1981.5,1014.42 1992.5,1014.17 2003.5,1013.92 2014.5,1013.42 2025.5,1012.41 2036.5,1011.16 2047.5,1009.65 2058.5,1007.89 2069.5,1005.88 2080.5,1004.37 2091.5,1002.86 2102.5,1001.61 2113.5,1000.35 2124.5,999.35 2135.5,998.59 2146.5,998.09 2157.5,997.84 2168.5,997.84 2179.5,997.59 2190.5,997.34 2201.5,997.34 2211.5,997.34 2222.5,997.59 2233.5,997.84 2244.5,998.34 2255.5,999.35 2266.5,1000.6 2277.5,1001.86" stroke="#ff6d00" stroke-width="1.4" fill="none" stroke-linejoin="round"/>
<text x="2357" y="64.8" font-size="15" fill="#b2b5be" font-weight="normal" text-anchor="start" textLength="45" lengthAdjust="spacingAndGlyphs">0.9000</text>
<text x="2357" y="117.96" font-size="15" fill="#b2b5be" font-weight="normal" text-anchor="start" textLength="45" lengthAdjust="spacingAndGlyphs">0.8500</text>
<text x="2357" y="171.12" font-size="15" fill="#b2b5be" font-weight="normal" text-anchor="start" textLength="45" lengthAdjust="spacingAndGlyphs">0.8000</text>
<text x="2357" y="224.28" font-size="15" fill="#b2b5be" font-weight="normal" text-anchor="start" textLength="45" lengthAdjust="spacingAndGlyphs">0.7500</text>
<text x="2357" y="277.44" font-size="15" fill="#b2b5be" font-weight="normal" text-anchor="start" textLength="45" lengthAdjust="spacingAndGlyphs">0.7000</text>
<text x="2357" y="330.6" font-size="15" fill="#b2b5be" font-weight="normal" text-anchor="start" textLength="45" lengthAdjust="spacingAndGlyphs">0.6500</text>
<text x="2357" y="383.76" font-size="15" fill="#b2b5be" font-weight="normal" text-anchor="start" textLength="45" lengthAdjust="spacingAndGlyphs">0.6000</text>
<text x="2357" y="436.92" font-size="15" fill="#b2b5be" font-weight="normal" text-anchor="start" textLength="45" lengthAdjust="spacingAndGlyphs">0.5500</text>
<text x="2357" y="490.08" font-size="15" fill="#b2b5be" font-weight="normal" text-anchor="start" textLength="45" lengthAdjust="spacingAndGlyphs">0.5000</text>
<text x="2357" y="543.24" font-size="15" fill="#b2b5be" font-weight="normal" text-anchor="start" textLength="45" lengthAdjust="spacingAndGlyphs">0.4500</text>
<text x="2357" y="596.4" font-size="15" fill="#b2b5be" font-weight="normal" text-anchor="start" textLength="45" lengthAdjust="spacingAndGlyphs">0.4000</text>
<text x="2357" y="649.56" font-size="15" fill="#b2b5be" font-weight="normal" text-anchor="start" textLength="45" lengthAdjust="spacingAndGlyphs">0.3500</text>
<text x="2357" y="702.72" font-size="15" fill="#b2b5be" font-weight="normal" text-anchor="start" textLength="45" lengthAdjust="spacingAndGlyphs">0.3000</text>
<text x="2357" y="755.88" font-size="15" fill="#b2b5be" font-weight="normal" text-anchor="start" textLength="45" lengthAdjust="spacingAndGlyphs">0.2500</text>
<text x="2357" y="809.04" font-size="15" fill="#b2b5be" font-weight="normal" text-anchor="start" textLength="45" lengthAdjust="spacingAndGlyphs">0.2000</text>
<path d="M2346 707H2421a2 2 0 0 1 2 2V744a2 2 0 0 1 -2 2H2346Z" fill="#089981"/>
<text x="2357.5" y="722.9" font-size="15" fill="#ffffff" font-weight="normal" text-anchor="start" textLength="45.5" lengthAdjust="spacingAndGlyphs">0.2812</text>
<text x="2358.5" y="741" font-size="15" fill="#c9ebe4" font-weight="normal" text-anchor="start" textLength="57.5" lengthAdjust="spacingAndGlyphs">11:06:03</text>
<rect x="2351" y="5" width="72.5" height="32" rx="5" fill="#131722" stroke="#2e3240" stroke-width="1.5"/>
<text x="2362.3" y="26.1" font-size="15" fill="#d1d4dc" font-weight="normal" text-anchor="start" textLength="35.4" lengthAdjust="spacingAndGlyphs">USDT</text>
<text x="2357.2" y="866.1" font-size="15" fill="#b2b5be" font-weight="normal" text-anchor="start" textLength="37" lengthAdjust="spacingAndGlyphs">80.00</text>
<text x="2357.2" y="916.2" font-size="15" fill="#b2b5be" font-weight="normal" text-anchor="start" textLength="37" lengthAdjust="spacingAndGlyphs">40.00</text>
<text x="2357.1" y="963" font-size="15" fill="#b2b5be" font-weight="normal" text-anchor="start" textLength="45" lengthAdjust="spacingAndGlyphs">0.0500</text>
<text x="2357.1" y="1002" font-size="15" fill="#b2b5be" font-weight="normal" text-anchor="start" textLength="45" lengthAdjust="spacingAndGlyphs">0.0000</text>
<text x="2357.1" y="1041.2" font-size="15" fill="#b2b5be" font-weight="normal" text-anchor="start" textLength="53" lengthAdjust="spacingAndGlyphs">−0.0500</text>
<text x="63.5" y="1070.3" font-size="15" fill="#b2b5be" font-weight="normal" text-anchor="middle">15</text>
<text x="249.5" y="1070.3" font-size="15" fill="#b2b5be" font-weight="bold" text-anchor="middle">Feb</text>
<text x="370.5" y="1070.3" font-size="15" fill="#b2b5be" font-weight="normal" text-anchor="middle">12</text>
<text x="567.5" y="1070.3" font-size="15" fill="#b2b5be" font-weight="bold" text-anchor="middle">Mar</text>
<text x="677.5" y="1070.3" font-size="15" fill="#b2b5be" font-weight="normal" text-anchor="middle">11</text>
<text x="786.5" y="1070.3" font-size="15" fill="#b2b5be" font-weight="normal" text-anchor="middle">21</text>
<text x="907.5" y="1070.3" font-size="15" fill="#b2b5be" font-weight="bold" text-anchor="middle">Apr</text>
<text x="1060.5" y="1070.3" font-size="15" fill="#b2b5be" font-weight="normal" text-anchor="middle">15</text>
<text x="1236.5" y="1070.3" font-size="15" fill="#b2b5be" font-weight="bold" text-anchor="middle">May</text>
<text x="1367.5" y="1070.3" font-size="15" fill="#b2b5be" font-weight="normal" text-anchor="middle">13</text>
<text x="1576.5" y="1070.3" font-size="15" fill="#b2b5be" font-weight="bold" text-anchor="middle">Jun</text>
<text x="1751.5" y="1070.3" font-size="15" fill="#b2b5be" font-weight="normal" text-anchor="middle">17</text>
<text x="1905.5" y="1070.3" font-size="15" fill="#b2b5be" font-weight="bold" text-anchor="middle">Jul</text>
<text x="2058.5" y="1070.3" font-size="15" fill="#b2b5be" font-weight="normal" text-anchor="middle">15</text>
<text x="2244.5" y="1070.3" font-size="15" fill="#b2b5be" font-weight="bold" text-anchor="middle">Aug</text>
<text x="10.3" y="26" font-size="15" fill="#c8cad2" font-weight="bold" text-anchor="start" textLength="292.8" lengthAdjust="spacingAndGlyphs">Decentraland / TetherUS, 1D, BINANCE</text>
<text x="10" y="47" font-size="15" fill="#b9bcc5" font-weight="normal" text-anchor="start" textLength="84.2" lengthAdjust="spacingAndGlyphs">Vol · MANA</text>
<text x="10" y="68.3" font-size="15" fill="#b9bcc5" font-weight="normal" text-anchor="start" textLength="186.7" lengthAdjust="spacingAndGlyphs">MA (200, close, 0, SMA, 5)</text>
<text x="10" y="89.2" font-size="15" fill="#b9bcc5" font-weight="normal" text-anchor="start" textLength="84.2" lengthAdjust="spacingAndGlyphs">Vol · MANA</text>
<text x="10" y="878.9" font-size="15" fill="#b9bcc5" font-weight="normal" text-anchor="start" textLength="184.7" lengthAdjust="spacingAndGlyphs">RSI (14, close, SMA, 14, 2)</text>
<text x="10" y="962.2" font-size="15" fill="#b9bcc5" font-weight="normal" text-anchor="start" textLength="250.8" lengthAdjust="spacingAndGlyphs">MACD (12, 26, close, 9, EMA, EMA)</text>
</svg></body></html>
